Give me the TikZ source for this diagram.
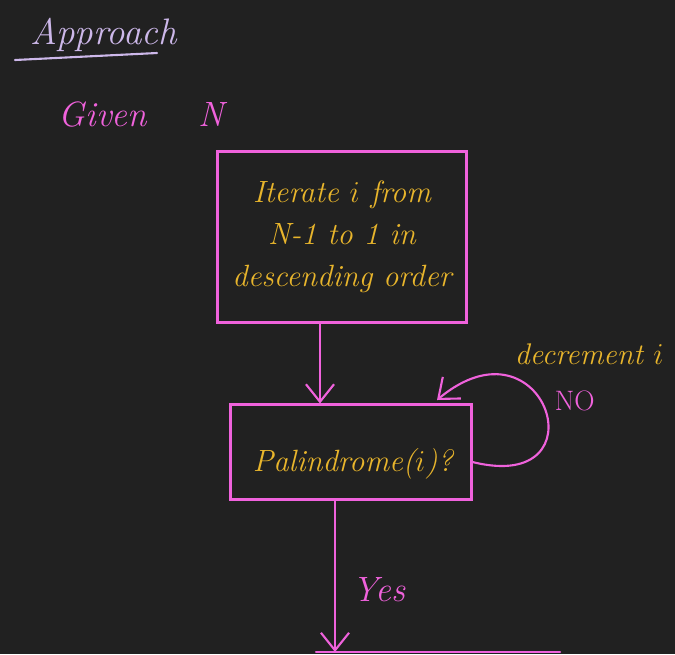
\documentclass[tikz,border=0pt]{standalone}
\usepackage{xcolor}
\usepackage{tikz}
\usetikzlibrary{positioning,arrows.meta}

\definecolor{board}{HTML}{212121}
\definecolor{pen}{HTML}{F062DC}
\definecolor{gold}{HTML}{E8B52C}
\definecolor{lilac}{HTML}{CDB8EA}

\begin{document}
\begin{tikzpicture}[x=0.02cm,y=-0.02cm,>={Straight Barb[length=10pt,width=16pt]},
                    line width=1.2pt,line cap=round,
                    stepbox/.style={draw=pen,text=gold,align=center,inner sep=0pt,
                                    font=\fontsize{17.5}{24}\selectfont\itshape},
                    pink text/.style={text=pen,font=\fontsize{20}{24}\selectfont\itshape},
                    gold text/.style={text=gold,font=\fontsize{17}{20}\selectfont\itshape}]
    \fill[board] (0,0) rectangle (675,654);
    \useasboundingbox (0,0) rectangle (675,654);

    \node[text=lilac,font=\fontsize{21}{24}\selectfont\itshape,anchor=base west] (title) at (24,44) {Approach};
    \draw[lilac] (15,60) -- (157,53);

    \node[pink text,anchor=west] (given) at (52,114) {Given};
    \node[pink text] (n) [right=0.75cm of given] {N};

    \node[stepbox,minimum width=4.98cm,minimum height=3.42cm] (iter) at (342,237)
        {Iterate $i$ from\\ N-1 to 1 in\\ descending order};
    \node[stepbox,minimum width=4.82cm,minimum height=1.9cm] (pal) at (351,452) {};
    \node[stepbox,draw=none] (paltext) at (353,464) {Palindrome($i$)?};

    \coordinate (back) at (437,400);
    \coordinate (next) at (335,652);

    \draw[->,draw=pen] (iter.south -| 320,0) -- (pal.north -| 320,0);
    \draw[->,draw=pen] ([yshift=-0.2cm]pal.east) .. controls (605,495) and (545,310) .. (back);
    \draw[->,draw=pen] (pal.south -| next) -- (next);
    \draw[pen] (316,652) -- (560,652);

    \node[gold text,anchor=south west] (dec) at (508,372) {decrement $i$};
    \node[pink text,anchor=west,font=\fontsize{16}{18}\selectfont] (no) at (548,401) {NO};
    \node[pink text,anchor=west] (yes) at (346,590) {Yes};
\end{tikzpicture}
\end{document}
